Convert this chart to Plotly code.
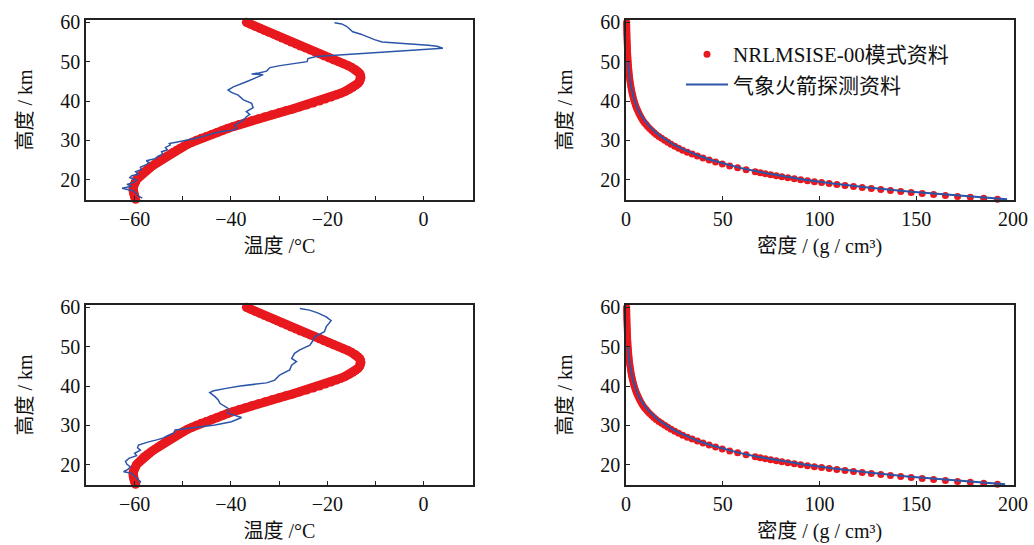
import plotly.graph_objects as go

RED = "#e8191e"
BLUE = "#2b55a8"
FONT = "Liberation Serif, Noto Sans CJK SC, serif"

# ---------------- data ----------------
# NRLMSISE-00 model temperature (altitude km, temperature C)
alt_model_T = [15.0, 15.5, 16.0, 16.5, 17.0, 17.5, 18.0, 18.5, 19.0, 19.5,
               20.0, 20.5, 21.0, 21.5, 22.0, 22.5, 23.0, 23.5, 24.0, 24.5,
               25.0, 25.5, 26.0, 26.5, 27.0, 27.5, 28.0, 28.5, 29.0, 29.5,
               30.0, 30.5, 31.0, 31.5, 32.0, 32.5, 33.0, 33.5, 34.0, 34.5,
               35.0, 35.5, 36.0, 36.5, 37.0, 37.5, 38.0, 38.5, 39.0, 39.5,
               40.0, 40.5, 41.0, 41.5, 42.0, 42.5, 43.0, 43.5, 44.0, 44.5,
               45.0, 45.5, 46.0, 46.5, 47.0, 47.5, 48.0, 48.5, 49.0, 49.5,
               50.0, 50.5, 51.0, 51.5, 52.0, 52.5, 53.0, 53.5, 54.0, 54.5,
               55.0, 55.5, 56.0, 56.5, 57.0, 57.5, 58.0, 58.5, 59.0, 59.5, 60.0]
temp_model = [-59.8, -60.0, -60.1, -60.2, -60.3, -60.3, -60.3, -60.2, -60.0, -59.8,
              -59.6, -59.2, -58.8, -58.4, -58.0, -57.5, -56.9, -56.3, -55.7, -55.1,
              -54.5, -53.9, -53.3, -52.6, -52.0, -51.3, -50.6, -49.8, -49.0, -48.1,
              -47.2, -46.2, -45.1, -44.0, -42.9, -41.8, -40.7, -39.5, -38.3, -37.0,
              -35.7, -34.3, -32.9, -31.5, -30.0, -28.6, -27.1, -25.7, -24.3, -22.9,
              -21.6, -20.4, -19.2, -18.1, -17.1, -16.2, -15.4, -14.7, -14.1, -13.6,
              -13.3, -13.1, -13.0, -13.1, -13.3, -13.7, -14.2, -14.9, -15.7, -16.7,
              -17.7, -18.7, -19.7, -20.7, -21.6, -22.6, -23.6, -24.6, -25.6, -26.5,
              -27.5, -28.4, -29.4, -30.3, -31.2, -32.2, -33.1, -34.0, -35.0, -35.9, -36.8]

# rocket sounding temperature, profile 1 (top panel)
alt_rocket_T1 = [15.3, 15.9, 16.5, 17.2, 17.8, 18.3, 18.8, 19.3, 19.9, 20.5,
                 21.0, 21.4, 22.0, 22.6, 23.2, 23.8, 24.4, 24.8, 25.3, 25.9,
                 26.5, 27.1, 27.6, 28.2, 28.8, 29.2, 29.7, 30.1, 30.6, 31.2,
                 31.8, 32.3, 32.6, 33.1, 33.9, 34.7, 35.4, 36.0, 36.6, 37.3,
                 38.3, 39.4, 40.3, 41.5, 42.2, 42.8, 43.6, 44.9, 45.8, 46.7,
                 46.9, 47.1, 47.6, 48.5, 49.0, 49.6, 50.0, 50.8, 51.3, 53.4,
                 53.9, 54.2, 54.5, 54.7, 55.0, 55.6, 56.4, 57.0, 57.6, 58.3,
                 59.0, 59.6, 59.9]
temp_rocket_T1 = [-58.4, -59.3, -59.6, -60.4, -62.6, -60.6, -61.6, -60.2, -59.6, -61.0,
                  -60.6, -59.2, -59.8, -58.6, -58.8, -57.6, -57.0, -57.6, -55.8, -55.2,
                  -54.2, -54.4, -53.2, -53.6, -52.6, -52.8, -50.6, -48.6, -47.0, -45.2,
                  -43.6, -41.6, -39.6, -38.8, -39.2, -38.1, -37.2, -36.8, -36.1, -36.8,
                  -35.4, -35.7, -37.4, -38.5, -39.9, -40.6, -39.5, -36.8, -34.9, -33.3,
                  -35.7, -34.2, -32.6, -31.9, -29.8, -25.7, -24.2, -24.0, -22.3, 4.0,
                  2.8, 1.0, -2.5, -6.0, -8.6, -10.2, -11.6, -13.0, -14.7, -15.3,
                  -16.0, -17.0, -18.5]

# rocket sounding temperature, profile 2 (bottom panel)
alt_rocket_T2 = [15.2, 15.7, 16.5, 17.2, 17.8, 18.2, 18.8, 19.5, 20.1, 20.8,
                 21.6, 22.3, 22.9, 23.7, 24.3, 25.0, 25.4, 25.8, 26.3, 26.8,
                 27.3, 28.0, 28.8, 29.2, 29.7, 30.1, 30.9, 31.5, 32.0, 32.6,
                 33.1, 34.3, 35.6, 36.4, 37.3, 38.3, 38.8, 39.4, 40.0, 40.8,
                 41.5, 42.8, 44.1, 45.3, 46.2, 47.0, 48.3, 49.2, 50.4, 51.5,
                 52.5, 53.8, 55.1, 56.6, 57.6, 58.6, 59.3, 59.7]
temp_rocket_T2 = [-59.0, -58.8, -59.5, -60.2, -60.6, -62.3, -61.4, -60.9, -61.6, -61.9,
                  -61.2, -59.6, -60.0, -58.8, -59.4, -59.2, -58.2, -57.1, -55.4, -54.0,
                  -53.3, -51.9, -51.6, -48.8, -46.0, -43.3, -39.9, -38.6, -37.8, -39.4,
                  -40.6, -40.6, -42.3, -42.6, -43.3, -44.4, -43.6, -41.0, -38.1, -32.6,
                  -30.9, -29.9, -27.8, -27.4, -26.4, -27.4, -26.8, -25.7, -23.6, -23.0,
                  -22.6, -20.6, -20.2, -19.2, -20.2, -22.0, -23.7, -25.7]

# NRLMSISE-00 model density (altitude km, density)
alt_model_D = [15.0, 15.25, 15.5, 15.75, 16.0, 16.25, 16.5, 16.75, 17.0, 17.25,
               17.5, 17.75, 18.0, 18.25, 18.5, 18.75, 19.0, 19.25, 19.5, 19.75,
               20.0, 20.25, 20.5, 20.75, 21.0, 21.25, 21.5, 21.75, 22.0,
               22.5, 23.0, 23.5, 24.0, 24.5, 25.0, 25.5, 26.0, 26.5, 27.0,
               27.5, 28.0, 28.5, 29.0, 29.5, 30.0, 30.5, 31.0, 31.5, 32.0,
               32.5, 33.0, 33.5, 34.0, 34.5, 35.0, 35.5, 36.0, 36.5, 37.0,
               37.5, 38.0, 38.5, 39.0, 39.5, 40.0, 40.5, 41.0, 41.5, 42.0,
               42.5, 43.0, 43.5, 44.0, 44.5, 45.0, 45.5, 46.0, 46.5, 47.0,
               47.5, 48.0, 48.5, 49.0, 49.5, 50.0, 50.5, 51.0, 51.5, 52.0,
               52.5, 53.0, 53.5, 54.0, 54.5, 55.0, 55.5, 56.0, 56.5, 57.0,
               57.5, 58.0, 58.5, 59.0, 59.5, 60.0]
dens_model = [192.0, 184.9, 178.0, 171.4, 165.1, 159.0, 153.1, 147.4, 142.0, 136.7,
              131.7, 126.8, 122.1, 117.6, 113.2, 109.0, 105.0, 101.1, 97.4, 93.8,
              90.3, 87.0, 83.7, 80.6, 77.7, 74.8, 72.0, 69.4, 66.8,
              62.1, 57.7, 53.6, 49.8, 46.3, 43.0, 39.8, 36.9, 34.2, 31.7,
              29.3, 27.2, 25.2, 23.3, 21.6, 20.0, 18.4, 17.0, 15.6, 14.4,
              13.3, 12.2, 11.2, 10.4, 9.55, 8.8, 8.17, 7.59, 7.05, 6.55,
              6.08, 5.65, 5.24, 4.87, 4.52, 4.2, 3.92, 3.66, 3.41, 3.18,
              2.97, 2.77, 2.58, 2.41, 2.25, 2.1, 1.97, 1.85, 1.73, 1.62,
              1.52, 1.43, 1.34, 1.25, 1.17, 1.1, 1.04, 0.98, 0.92, 0.86,
              0.81, 0.76, 0.72, 0.68, 0.64, 0.6, 0.565, 0.53, 0.5, 0.47,
              0.445, 0.42, 0.395, 0.37, 0.35, 0.33]

# rocket sounding density
alt_rocket_D = [15, 16, 17, 18, 19, 20, 21, 22, 23, 24, 25, 26, 27, 28, 29, 30,
                31, 32, 33, 34, 35, 36, 37, 38, 39, 40, 41, 42, 43, 44, 45, 46,
                47, 48, 49, 50]
dens_rocket_1 = [197.0, 170.0, 146.0, 125.0, 107.0, 92.5, 79.5, 68.5, 59.0, 51.0,
                 44.0, 38.0, 32.8, 28.3, 24.4, 21.0, 18.0, 15.4, 13.2, 11.3,
                 9.7, 8.3, 7.1, 6.1, 5.2, 4.5, 3.9, 3.35, 2.9, 2.5,
                 2.15, 1.85, 1.6, 1.4, 1.2, 1.05]
dens_rocket_2 = [196.0, 169.0, 145.5, 125.5, 107.5, 93.0, 79.5, 68.0, 58.5, 50.5,
                 43.5, 37.5, 32.5, 28.0, 24.2, 20.8, 17.8, 15.3, 13.1, 11.2,
                 9.6, 8.2, 7.0, 6.0, 5.2, 4.5, 3.9, 3.35, 2.9, 2.5,
                 2.15, 1.85, 1.6, 1.4, 1.2, 1.05]

# ---------------- figure ----------------
fig = go.Figure()

for xa, ya, t_alt, t_val in [("x", "y", alt_rocket_T1, temp_rocket_T1),
                             ("x3", "y3", alt_rocket_T2, temp_rocket_T2)]:
    fig.add_trace(go.Scatter(x=temp_model, y=alt_model_T, xaxis=xa, yaxis=ya,
                             mode="lines+markers", cliponaxis=False,
                             line=dict(color=RED, width=9),
                             marker=dict(color=RED, size=9),
                             showlegend=False))
    fig.add_trace(go.Scatter(x=t_val, y=t_alt, xaxis=xa, yaxis=ya,
                             mode="lines", cliponaxis=False,
                             line=dict(color=BLUE, width=1.5),
                             showlegend=False))

for xa, ya, d_val, show in [("x2", "y2", dens_rocket_1, True),
                            ("x4", "y4", dens_rocket_2, False)]:
    fig.add_trace(go.Scatter(x=dens_model, y=alt_model_D, xaxis=xa, yaxis=ya,
                             mode="markers", cliponaxis=False,
                             marker=dict(color=RED, size=7),
                             name="NRLMSISE-00模式资料",
                             showlegend=show))
    fig.add_trace(go.Scatter(x=d_val, y=alt_rocket_D, xaxis=xa, yaxis=ya,
                             mode="lines", cliponaxis=False,
                             line=dict(color=BLUE, width=2),
                             name="气象火箭探测资料",
                             showlegend=show))

W, H = 1034, 545
xl = [86 / W, 472.7 / W]
xr = [626 / W, 1013.5 / W]
yt = [1 - 200 / H, 1 - 20 / H]
yb = [1 - 485 / H, 1 - 305 / H]

axis_common = dict(showline=True, linecolor="#222", linewidth=1.5, mirror=True,
                   ticks="inside", ticklen=4, tickwidth=1.3, tickcolor="#222",
                   showgrid=False, zeroline=False, automargin=False,
                   tickfont=dict(family=FONT, size=20, color="#111"))
title_font = dict(family=FONT, size=20, color="#111")

temp_x = dict(axis_common, range=[-70.1, 10.2], tick0=0, dtick=20,
              minor=dict(dtick=10, tick0=0, ticks="inside", ticklen=4,
                         tickwidth=1.3, tickcolor="#222"),
              title=dict(text="温度 /°C", font=title_font, standoff=10))
dens_x = dict(axis_common, range=[0, 200.3], tick0=0, dtick=50,
              title=dict(text="密度 / (g / cm³)", font=title_font, standoff=10))
alt_y = dict(axis_common, range=[14.83, 60.6], tick0=0, dtick=10,
             title=dict(text="高度 / km", font=title_font, standoff=22))

fig.update_layout(
    width=W, height=H,
    margin=dict(l=0, r=0, t=0, b=0, autoexpand=False),
    paper_bgcolor="white", plot_bgcolor="white",
    xaxis=dict(temp_x, domain=xl, anchor="y"),
    yaxis=dict(alt_y, domain=yt, anchor="x"),
    xaxis2=dict(dens_x, domain=xr, anchor="y2"),
    yaxis2=dict(alt_y, domain=yt, anchor="x2"),
    xaxis3=dict(temp_x, domain=xl, anchor="y3"),
    yaxis3=dict(alt_y, domain=yb, anchor="x3"),
    xaxis4=dict(dens_x, domain=xr, anchor="y4"),
    yaxis4=dict(alt_y, domain=yb, anchor="x4"),
    legend=dict(x=681 / W, y=1 - 34 / H, xanchor="left", yanchor="top",
                bgcolor="rgba(0,0,0,0)", traceorder="normal",
                itemwidth=42,
                font=dict(family=FONT, size=21, color="#111")),
)

fig.write_html("out.html")
